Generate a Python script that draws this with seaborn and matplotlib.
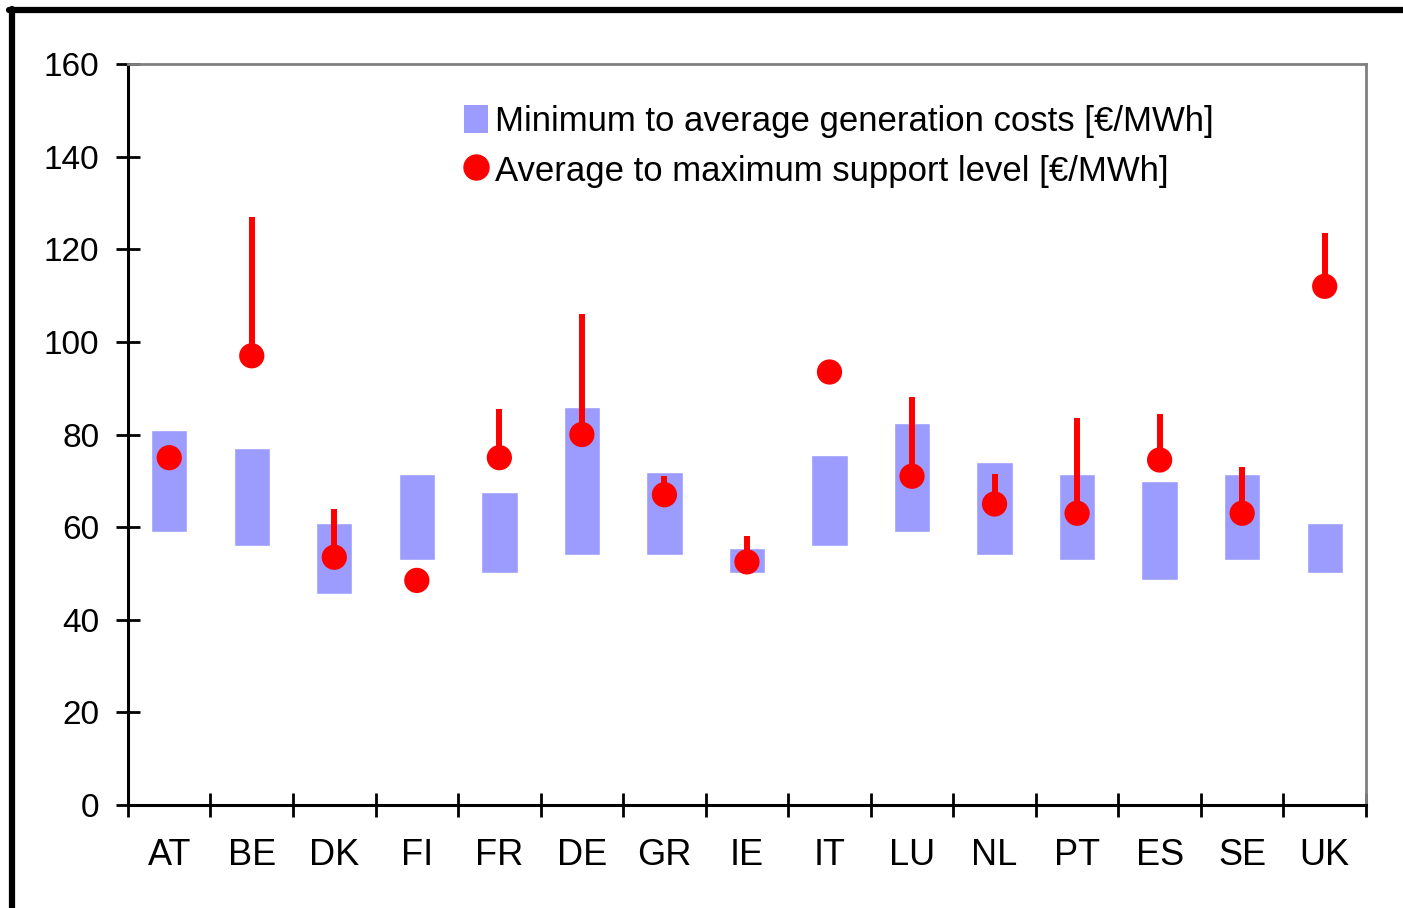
import numpy as np
import matplotlib
matplotlib.use("Agg")
import matplotlib.pyplot as plt
from matplotlib.lines import Line2D
from matplotlib.patches import Patch
import seaborn as sns
import pandas as pd

countries = ["AT", "BE", "DK", "FI", "FR", "DE", "GR", "IE", "IT", "LU", "NL", "PT", "ES", "SE", "UK"]
cost_min = [59, 56, 45.5, 53, 50, 54, 54, 50, 56, 59, 54, 53, 48.5, 53, 50]
cost_avg = [81, 77, 61, 71.5, 67.5, 86, 72, 55.5, 75.5, 82.5, 74, 71.5, 70, 71.5, 61]
support_avg = [75, 97, 53.5, 48.5, 75, 80, 67, 52.5, 93.5, 71, 65, 63, 74.5, 63, 112]
support_max = [76.5, 127, 64, 48.5, 85.5, 106, 71, 58, 93.5, 88, 71.5, 83.5, 84.5, 73, 123.5]

sns.set_style("white")
plt.rcParams["font.family"] = ["Liberation Sans", "DejaVu Sans"]
for key in ["text.color", "axes.labelcolor", "xtick.color", "ytick.color"]:
    plt.rcParams[key] = "black"

df = pd.DataFrame({"country": countries, "cmin": cost_min, "cavg": cost_avg,
                   "savg": support_avg, "smax": support_max})
df["span"] = df["cavg"] - df["cmin"]
df["pos"] = np.arange(len(df))

fig = plt.figure(figsize=(14.03, 9.08), dpi=100)
ax = fig.add_axes([0.0912, 0.1134, 0.8824, 0.8161])

bar_col = "#9C9CFF"
red = "#FF0000"

# range bars (min -> average cost)
sns.barplot(data=df, x="country", y="span", order=countries, bottom=df["cmin"].values,
            color=bar_col, width=0.44, saturation=1, ax=ax, zorder=2)

# support level: line from average up to maximum, dot at average
ax.vlines(df["pos"], df["savg"], df["smax"], color=red, lw=4.3, zorder=3)
sns.scatterplot(data=df, x="pos", y="savg", color=red, s=330, edgecolor="none",
                ax=ax, zorder=4, legend=False)

ax.set_xlim(-0.5, len(countries) - 0.5)
ax.set_ylim(0, 160)
ax.set_xlabel("")
ax.set_ylabel("")

ax.set_yticks(np.arange(0, 161, 20))
ax.set_xticks(np.arange(-0.5, len(countries), 1))
ax.set_xticklabels([])
ax.set_xticks(np.arange(len(countries)), minor=True)
ax.set_xticklabels(countries, minor=True)
ax.tick_params(axis="y", direction="inout", length=17, width=2, labelsize=24, pad=12, left=True)
ax.tick_params(axis="x", which="major", direction="inout", length=17, width=2, bottom=True)
ax.tick_params(axis="x", which="minor", length=0, labelsize=26, pad=24)

for side in ["left", "bottom"]:
    ax.spines[side].set_color("black")
    ax.spines[side].set_linewidth(2.2)
for side in ["top", "right"]:
    ax.spines[side].set_color("#808080")
    ax.spines[side].set_linewidth(2)

handles = [Patch(facecolor=bar_col, edgecolor="none"),
           Line2D([], [], marker="o", color=red, linestyle="none", markersize=18)]
labels = ["Minimum to average generation costs [\u20ac/MWh]",
          "Average to maximum support level [\u20ac/MWh]"]
ax.legend(handles, labels, loc="upper left", bbox_to_anchor=(0.26, 0.964), frameon=False,
          fontsize=25, handlelength=0.7, handleheight=0.9, handletextpad=0.2,
          labelspacing=0.47, borderaxespad=0)

# outer black frame (top and left edges)
fig.add_artist(Line2D([0.0064, 1.0], [0.9885, 0.9885], transform=fig.transFigure, color="black", lw=4.5))
fig.add_artist(Line2D([0.0086, 0.0086], [0.0, 0.99], transform=fig.transFigure, color="black", lw=4.5))

fig.savefig("out.png", dpi=100)
